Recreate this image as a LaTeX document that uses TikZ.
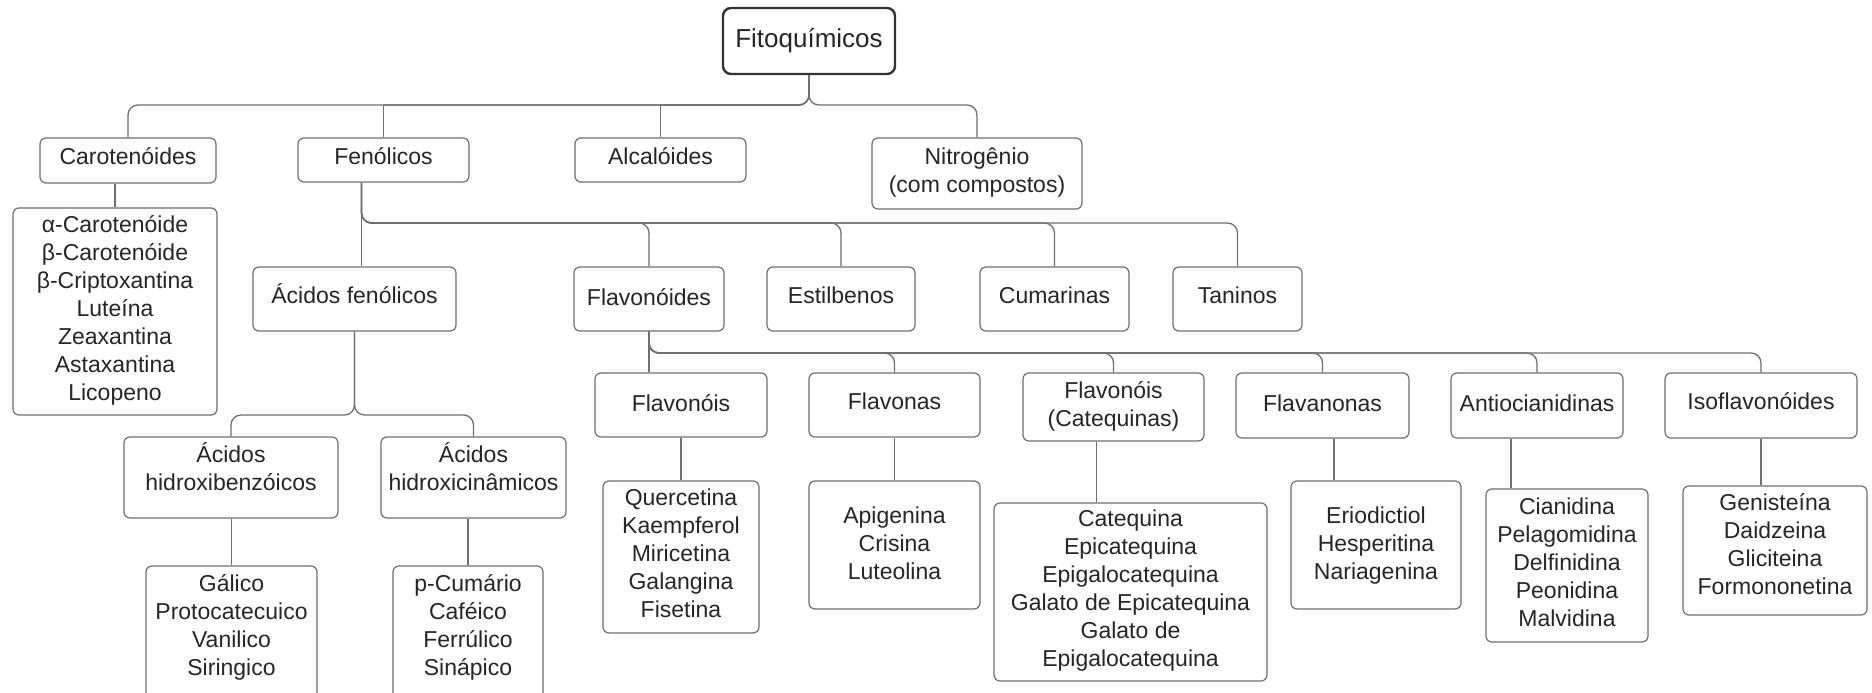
\documentclass[tikz,border=0pt]{standalone}
\usepackage{fontspec}
\setmainfont{Liberation Sans}
\definecolor{linec}{HTML}{707070}
\definecolor{txt}{HTML}{262626}
\definecolor{rootc}{HTML}{333333}
% text with fixed top strut and chosen bottom strut (vertical placement)
\newcommand{\mybt}[2]{\rule{0pt}{22pt}#2\rule[-#1pt]{0pt}{#1pt}}
\begin{document}
\begin{tikzpicture}[x=1pt,y=-1pt,
  box/.style={draw=linec, line width=1.2pt, rounded corners=6pt, fill=white,
    align=center, inner sep=0pt, text=txt, font=\fontsize{23}{28}\selectfont},
  rootbox/.style={box, draw=rootc, line width=2.4pt, rounded corners=8pt,
    font=\fontsize{26}{30}\selectfont},
  conn/.style={draw=linec, line width=1.3pt, rounded corners=10pt},
  straight/.style={draw=linec, line width=1.3pt}]
\useasboundingbox[fill=white] (0,0) rectangle (1872,693);

% level 0
\node[rootbox, minimum width=172pt, minimum height=66pt] (root) at (809,41) {Fitoquímicos};
% level 1
\node[box, minimum width=176pt, minimum height=45pt] (car) at (128,160.5) {\mybt{13.6}{Carotenóides}};
\node[box, minimum width=171pt, minimum height=44pt] (fen) at (383.5,160) {\mybt{14}{Fenólicos}};
\node[box, minimum width=171pt, minimum height=44pt] (alc) at (660.5,160) {\mybt{14}{Alcalóides}};
\node[box, minimum width=210pt, minimum height=71pt] (nit) at (977,173.5) {\mybt{12}{Nitrogênio\\(com compostos)}};
% carotenoid list
\node[box, minimum width=204pt, minimum height=207pt] (carl) at (115,311.5)
  {\mybt{11.6}{α-Carotenóide\\β-Carotenóide\\β-Criptoxantina\\Luteína\\Zeaxantina\\Astaxantina\\Licopeno}};
% level 2 (fenólicos)
\node[box, minimum width=203pt, minimum height=64pt] (acf) at (354.5,299) {\mybt{12.6}{Ácidos fenólicos}};
\node[box, minimum width=150pt, minimum height=64pt] (flav) at (649,299) {\mybt{9.4}{Flavonóides}};
\node[box, minimum width=148pt, minimum height=64pt] (est) at (841,299) {\mybt{14}{Estilbenos}};
\node[box, minimum width=149pt, minimum height=64pt] (cum) at (1054.5,299) {\mybt{14}{Cumarinas}};
\node[box, minimum width=129pt, minimum height=64pt] (tan) at (1237.5,299) {\mybt{14}{Taninos}};
% ácidos
\node[box, minimum width=214pt, minimum height=81pt] (hbz) at (231,477.5) {\mybt{24}{Ácidos\\hidroxibenzóicos}};
\node[box, minimum width=185pt, minimum height=81pt] (hcn) at (473.5,477.5) {\mybt{24}{Ácidos\\hidroxicinâmicos}};
\node[box, minimum width=171pt, minimum height=136pt] (gal) at (231.5,634) {\mybt{24}{Gálico\\Protocatecuico\\Vanilico\\Siringico}};
\node[box, minimum width=150pt, minimum height=136pt] (pcu) at (468,634) {\mybt{24}{p-Cumário\\Caféico\\Ferrúlico\\Sinápico}};
% flavonoid classes
\node[box, minimum width=172pt, minimum height=64pt] (flvs) at (681,405) {\mybt{9.4}{Flavonóis}};
\node[box, minimum width=171pt, minimum height=64pt] (flvn) at (894.5,405) {\mybt{14}{Flavonas}};
\node[box, minimum width=181pt, minimum height=68pt] (cat) at (1113.5,407) {\mybt{11.6}{Flavonóis\\(Catequinas)}};
\node[box, minimum width=173pt, minimum height=65pt] (flvno) at (1322.5,405.5) {\mybt{9.4}{Flavanonas}};
\node[box, minimum width=172pt, minimum height=65pt] (ant) at (1537,405.5) {\mybt{10.4}{Antiocianidinas}};
\node[box, minimum width=192pt, minimum height=65pt] (iso) at (1761,405.5) {\mybt{15}{Isoflavonóides}};
% lists
\node[box, minimum width=156pt, minimum height=152pt] (querc) at (681,557)
  {\mybt{14}{Quercetina\\Kaempferol\\Miricetina\\Galangina\\Fisetina}};
\node[box, minimum width=171pt, minimum height=128pt] (api) at (894.5,545)
  {\mybt{9.4}{Apigenina\\Crisina\\Luteolina}};
\node[box, minimum width=273pt, minimum height=178pt] (catl) at (1130.5,592)
  {\mybt{13.4}{Catequina\\Epicatequina\\Epigalocatequina\\Galato de Epicatequina\\Galato de\\Epigalocatequina}};
\node[box, minimum width=170pt, minimum height=128pt] (eri) at (1376,545)
  {\mybt{9}{Eriodictiol\\Hesperitina\\Nariagenina}};
\node[box, minimum width=162pt, minimum height=153pt] (cia) at (1567,565.5)
  {\mybt{12.6}{Cianidina\\Pelagomidina\\Delfinidina\\Peonidina\\Malvidina}};
\node[box, minimum width=184pt, minimum height=129pt] (gen) at (1775,550.5)
  {\mybt{18}{Genisteína\\Daidzeina\\Gliciteina\\Formononetina}};

% bus levels
\coordinate (b0) at (0,105);
\coordinate (b1) at (0,223);
\coordinate (b2) at (0,415);
\coordinate (b3) at (0,353);

% root connectors
\draw[conn] (root.south) |- (car.north |- b0) -- (car.north);
\draw[conn] (root.south) |- (nit.north |- b0) -- (nit.north);
\draw[conn] (root.south) |- (fen.north |- b0);
\draw[straight] (fen.north |- b0) -- (fen.north);
\draw[conn] (root.south) |- (alc.north |- b0);
\draw[straight] (alc.north |- b0) -- (alc.north);

% carotenoides
\draw[straight] (carl.north |- car.south) -- (carl.north);

% fenolicos
\coordinate (fenout) at ([xshift=-22pt]fen.south);
\draw[straight] (fenout) -- (fenout |- acf.north);
\draw[conn] (fenout) |- (flav.north |- b1) -- (flav.north);
\draw[conn] (fenout) |- (est.north |- b1) -- (est.north);
\draw[conn] (fenout) |- (cum.north |- b1) -- (cum.north);
\draw[conn] (fenout) |- (tan.north |- b1) -- (tan.north);

% acidos fenolicos
\draw[conn] (acf.south) |- (hbz.north |- b2) -- (hbz.north);
\draw[conn] (acf.south) |- (hcn.north |- b2) -- (hcn.north);
\draw[straight] (gal.north |- hbz.south) -- (gal.north);
\draw[straight] (pcu.north |- hcn.south) -- (pcu.north);

% flavonoides
\draw[straight] (flav.south) -- (flav.south |- flvs.north);
\draw[conn] (flav.south) |- (flvn.north |- b3) -- (flvn.north);
\draw[conn] (flav.south) |- (cat.north |- b3) -- (cat.north);
\draw[conn] (flav.south) |- (flvno.north |- b3) -- (flvno.north);
\draw[conn] (flav.south) |- (ant.north |- b3) -- (ant.north);
\draw[conn] (flav.south) |- (iso.north |- b3) -- (iso.north);

% class -> lists
\draw[straight] (flvs.south) -- (querc.north);
\draw[straight] (flvn.south) -- (api.north);
\coordinate (catout) at ([xshift=-17pt]cat.south);
\draw[straight] (catout) -- (catout |- catl.north);
\coordinate (flvnoout) at ([xshift=11.5pt]flvno.south);
\draw[straight] (flvnoout) -- (flvnoout |- eri.north);
\coordinate (antout) at ([xshift=-26pt]ant.south);
\draw[straight] (antout) -- (antout |- cia.north);
\draw[straight] (iso.south) -- (iso.south |- gen.north);
\end{tikzpicture}
\end{document}
